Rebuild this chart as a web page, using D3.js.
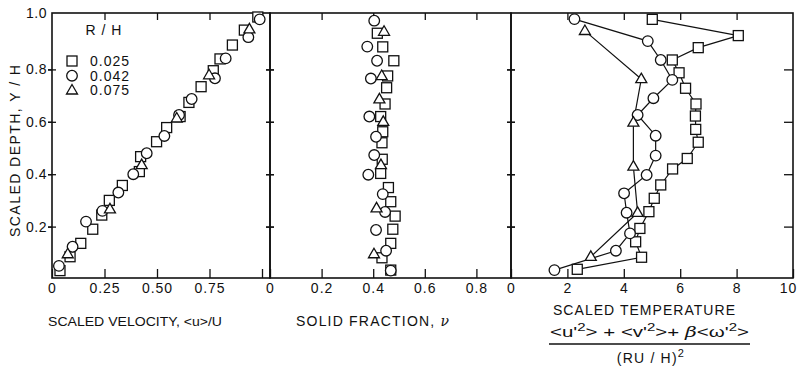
<!DOCTYPE html>
<html><head><meta charset="utf-8">
<script src="https://cdn.jsdelivr.net/npm/d3@7"></script>
<style>
body{margin:0;background:#fff}
text{font-family:"Liberation Sans",Arial,sans-serif;fill:#111}
</style>
</head><body>
<svg id="c" width="799" height="373"></svg>
<script>
// ---------- DATA ----------
// [value, scaled depth Y/H]
const seriesNames = ["0.025", "0.042", "0.075"];
const legendTitle = "R / H";

const velocity025 = [[0.038,0.032],[0.086,0.085],[0.137,0.136],[0.194,0.19],[0.237,0.244],[0.273,0.30],[0.335,0.357],[0.416,0.41],[0.422,0.467],[0.498,0.524],[0.546,0.578],[0.61,0.62],[0.652,0.674],[0.71,0.734],[0.768,0.795],[0.80,0.84],[0.859,0.893],[0.916,0.95],[0.98,1.0]];
const velocity042 = [[0.033,0.05],[0.098,0.123],[0.162,0.219],[0.24,0.26],[0.316,0.33],[0.387,0.40],[0.451,0.48],[0.535,0.546],[0.605,0.626],[0.665,0.687],[0.776,0.766],[0.827,0.842],[0.935,0.923],[0.989,0.991]];
const velocity075 = [[0.075,0.095],[0.276,0.266],[0.427,0.435],[0.594,0.613],[0.748,0.778],[0.94,0.953]];

const fraction025 = [[0.416,0.938],[0.437,0.886],[0.48,0.833],[0.456,0.775],[0.452,0.73],[0.446,0.668],[0.429,0.62],[0.437,0.562],[0.434,0.52],[0.435,0.457],[0.429,0.403],[0.459,0.349],[0.468,0.295],[0.485,0.24],[0.476,0.19],[0.468,0.136],[0.434,0.081],[0.468,0.034]];
const fraction042 = [[0.404,0.986],[0.377,0.887],[0.415,0.833],[0.391,0.765],[0.385,0.62],[0.411,0.543],[0.404,0.473],[0.381,0.398],[0.437,0.324],[0.446,0.256],[0.411,0.187],[0.45,0.108],[0.468,0.032]];
const fraction075 = [[0.442,0.944],[0.433,0.775],[0.424,0.686],[0.439,0.60],[0.43,0.435],[0.413,0.27],[0.403,0.095]];

const temperature025 = [[5.01,0.991],[8.06,0.929],[6.64,0.883],[5.72,0.836],[5.96,0.787],[6.19,0.728],[6.56,0.668],[6.54,0.622],[6.55,0.571],[6.64,0.522],[6.25,0.46],[5.73,0.42],[5.31,0.359],[5.08,0.308],[4.89,0.257],[4.57,0.193],[4.42,0.142],[4.63,0.083],[2.35,0.037]];
const temperature042 = [[2.25,0.992],[4.85,0.908],[5.31,0.836],[5.72,0.76],[5.05,0.69],[4.49,0.626],[5.13,0.547],[5.13,0.471],[4.81,0.397],[4.01,0.327],[4.10,0.253],[4.22,0.174],[3.72,0.108],[1.54,0.034]];
const temperature075 = [[2.62,0.947],[4.62,0.763],[4.34,0.597],[4.34,0.429],[4.49,0.253],[2.83,0.085]];

const depthTicks = [0.2, 0.4, 0.6, 0.8, 1.0];
const depthTickLabels = ["0.2", "0.4", "0.6", "0.8", "1.0"];
const velocityTicks = [0, 0.25, 0.5, 0.75, 1.0];
const velocityTickLabels = ["0", "0.25", "0.50", "0.75", ""];
const fractionTicks = [0, 0.2, 0.4, 0.6, 0.8];
const fractionTickLabels = ["0", "0.2", "0.4", "0.6", "0.8"];
const temperatureTicks = [0, 2, 4, 6, 8, 10];
const temperatureTickLabels = ["0", "2", "4", "6", "8", "10"];

// ---------- LAYOUT ----------
const svg = d3.select("#c");
const frameTop = 13, frameBottom = 278;
const y = d3.scaleLinear().domain([0, 1]).range([279, 17]);

const panels = [
  {x0: 52, x1: 270, x: d3.scaleLinear().domain([0, 1]).range([52, 262]),
   ticks: velocityTicks, labels: velocityTickLabels, sets: [velocity025, velocity042, velocity075], lines: false},
  {x0: 270, x1: 511, x: d3.scaleLinear().domain([0, 1]).range([270, 528]),
   ticks: fractionTicks, labels: fractionTickLabels, sets: [fraction025, fraction042, fraction075], lines: false},
  {x0: 511, x1: 793, x: d3.scaleLinear().domain([0, 10]).range([511, 793]),
   ticks: temperatureTicks, labels: temperatureTickLabels, sets: [temperature025, temperature042, temperature075], lines: true}
];

const shapes = ["square", "circle", "triangle"];
function drawMarker(g, shape, cx, cy) {
  if (shape === "square") {
    g.append("rect").attr("x", cx - 5).attr("y", cy - 5).attr("width", 10).attr("height", 10);
  } else if (shape === "circle") {
    g.append("circle").attr("cx", cx).attr("cy", cy).attr("r", 5.3);
  } else {
    const s = 11, h = s * Math.sqrt(3) / 2;
    g.append("path").attr("d", `M${cx},${cy - h * 0.62}L${cx + s / 2},${cy + h * 0.38}L${cx - s / 2},${cy + h * 0.38}Z`);
  }
}

const tickFont = "14px";
panels.forEach((p, pi) => {
  const g = svg.append("g");
  const ab = g.append("g").attr("transform", `translate(0,${frameBottom})`)
    .call(d3.axisBottom(p.x).tickValues(p.ticks).tickSize(-9).tickPadding(5)
      .tickFormat((d, i) => p.labels[i]));
  ab.select(".domain").remove();
  ab.selectAll("line").attr("stroke", "#111").attr("stroke-width", 1.3);
  ab.selectAll("text").attr("font-size", tickFont).attr("letter-spacing", "1px").attr("fill", "#111");
  if (pi === 2) ab.selectAll(".tick").filter(d => d === 10).select("text").attr("dx", "-5");
  const at = g.append("g").attr("transform", `translate(0,${frameTop})`)
    .call(d3.axisTop(p.x).tickValues(p.ticks.filter(t => p.x(t) > p.x0 + 2 && p.x(t) < p.x1 - 2)).tickSize(-7).tickFormat(""));
  at.select(".domain").remove();
  at.selectAll("line").attr("stroke", "#111").attr("stroke-width", 1.3);
  const yt = depthTicks.filter(t => t < 1);
  [p.x0, p.x1].forEach((bx, bi) => {
    const inward = (bi === 0 ? 1 : -1);
    const isOuterRight = (pi === 2 && bi === 1);
    const a = g.append("g").attr("transform", `translate(${bx},0)`)
      .call((inward > 0 ? d3.axisRight(y) : d3.axisLeft(y)).tickValues(yt)
        .tickSize(isOuterRight ? 9 : 4).tickFormat(""));
    a.select(".domain").remove();
    a.selectAll("line").attr("stroke", "#111").attr("stroke-width", 1.3);
    if (!isOuterRight) {
      const b = g.append("g").attr("transform", `translate(${bx},0)`)
        .call((inward > 0 ? d3.axisLeft(y) : d3.axisRight(y)).tickValues(yt).tickSize(4).tickFormat(""));
      b.select(".domain").remove();
      b.selectAll("line").attr("stroke", "#111").attr("stroke-width", 1.3);
    }
  });
  g.append("rect").attr("x", p.x0).attr("y", frameTop).attr("width", p.x1 - p.x0).attr("height", frameBottom - frameTop)
    .attr("fill", "none").attr("stroke", "#111").attr("stroke-width", 1.6);

  if (p.lines) {
    const line = d3.line().x(d => p.x(d[0])).y(d => y(d[1]));
    p.sets.forEach(s => {
      g.append("path").datum(s).attr("d", line).attr("fill", "none").attr("stroke", "#111").attr("stroke-width", 1.2);
    });
  }
  p.sets.forEach((s, si) => {
    const mg = g.append("g").attr("fill", "#fff").attr("stroke", "#111").attr("stroke-width", 1.3);
    s.forEach(d => drawMarker(mg, shapes[si], p.x(d[0]), y(d[1])));
  });
});

const al = svg.append("g").attr("transform", `translate(52,0)`)
  .call(d3.axisLeft(y).tickValues(depthTicks).tickSize(4).tickPadding(1)
    .tickFormat((d, i) => depthTickLabels[i]));
al.select(".domain").remove();
al.selectAll("line").attr("stroke", "#111").attr("stroke-width", 1.3)
  .filter(d => d === 1).remove();
al.selectAll("text").attr("font-size", tickFont).attr("letter-spacing", "0.5px").attr("fill", "#111");
al.selectAll(".tick").filter(d => d === 1).select("text").attr("y", -4);

svg.append("text").attr("transform", "translate(20,151) rotate(-90)")
  .attr("text-anchor", "middle").attr("font-size", "14px")
  .attr("textLength", 172).attr("lengthAdjust", "spacing")
  .text("SCALED DEPTH, Y / H");

svg.append("text").attr("x", 48).attr("y", 326)
  .attr("font-size", "13.5px").attr("textLength", 174).attr("lengthAdjust", "spacingAndGlyphs")
  .text("SCALED VELOCITY, <u>/U");
const sf = svg.append("text").attr("x", 296).attr("y", 326)
  .attr("font-size", "14px").attr("textLength", 153).attr("lengthAdjust", "spacing");
sf.append("tspan").text("SOLID FRACTION, ");
sf.append("tspan").attr("font-style", "italic").attr("font-family", "DejaVu Serif").text("ν");

svg.append("text").attr("x", 553).attr("y", 315)
  .attr("font-size", "14px").attr("textLength", 182).attr("lengthAdjust", "spacing").text("SCALED TEMPERATURE");

const num = svg.append("text").attr("x", 550).attr("y", 337)
  .attr("font-size", "15px").attr("textLength", 199).attr("lengthAdjust", "spacingAndGlyphs");
function addSq(t, base) {
  t.append("tspan").text(base);
  t.append("tspan").attr("font-size", "11px").attr("dy", "-6").text("2");
  t.append("tspan").attr("dy", "6").text(">");
}
addSq(num, "<u'");
num.append("tspan").text(" + ");
addSq(num, "<v'");
num.append("tspan").text("+ ");
num.append("tspan").attr("font-style", "italic").attr("font-family", "DejaVu Serif").text("β");
addSq(num, "<ω'");
svg.append("line").attr("x1", 549).attr("x2", 750).attr("y1", 344).attr("y2", 344)
  .attr("stroke", "#111").attr("stroke-width", 1.3);
const den = svg.append("text").attr("x", 651).attr("y", 363).attr("text-anchor", "middle")
  .attr("font-size", "14px").attr("letter-spacing", "1.2px");
den.append("tspan").text("(RU / H)");
den.append("tspan").attr("font-size", "11px").attr("dy", "-6").text("2");

svg.append("text").attr("x", 104).attr("y", 35).attr("text-anchor", "middle")
  .attr("font-size", "14px").attr("letter-spacing", "1px").text(legendTitle);
const lg = svg.append("g");
seriesNames.forEach((n, i) => {
  const ly = 61 + i * 14.7;
  const mg = lg.append("g").attr("fill", "#fff").attr("stroke", "#111").attr("stroke-width", 1.3);
  drawMarker(mg, shapes[i], 72, ly);
  lg.append("text").attr("x", 90).attr("y", ly + 5).attr("font-size", "14px")
    .attr("letter-spacing", "1px").text(n);
});
</script>
</body></html>
